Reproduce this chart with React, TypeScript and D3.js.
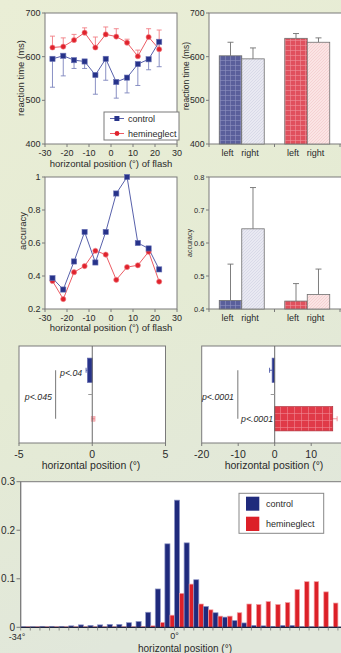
import React from "react";
import * as d3 from "d3";

// ---------- data ----------
const flashPos = [-26.6, -21.7, -16.8, -12, -7.1, -2.4, 2.4, 7.3, 12.2, 17.1, 21.9];
const rtControl = [595, 602, 592, 589, 558, 595, 542, 552, 583, 594, 634];
const rtControlLow = [530, 556, 573, 573, 514, 546, 505, 517, 534, 570, 577];
const rtHemi = [621, 623, 638, 655, 621, 651, 646, 632, 601, 645, 617];
const rtHemiHigh = [647, 643, 651, 666, 645, 668, 664, 640, 615, 664, 661];
const accControl = [0.387, 0.318, 0.488, 0.667, 0.482, 0.667, 0.9, 1.0, 0.6, 0.567, 0.44];
const accHemi = [0.37, 0.26, 0.423, 0.46, 0.553, 0.53, 0.377, 0.454, 0.465, 0.547, 0.366];

const groups = ["control", "hemineglect"];
const sides = ["left", "right"];
const rtBarMeans = [602, 595, 642, 633];
const rtBarErr = [633, 620, 653, 643];
const accBarMeans = [0.426, 0.643, 0.424, 0.444];
const accBarErr = [0.536, 0.768, 0.477, 0.521];

const biasSmall = [-0.32, 0.06];
const biasSmallErr = [0.1, 0.1];
const biasLarge = [-0.7, 15.9];
const biasLargeErr = [0.7, 1.2];

const histStart = -34;
const histBinWidth = 2.125;
const histControl = [0.001, 0.001, 0.002, 0.002, 0.002, 0.003, 0.005, 0.004, 0.005, 0.006, 0.006, 0.0095, 0.012, 0.031, 0.079, 0.172, 0.262, 0.174, 0.098, 0.043, 0.030, 0.021, 0.014, 0.009, 0.004, 0.003, 0.002, 0.004, 0.004, 0.001, 0.001, 0.0006, 0.0006, 0.0005];
const histHemi = [0.001, 0.001, 0.001, 0.001, 0.001, 0.001, 0.001, 0.001, 0.001, 0.001, 0.001, 0.001, 0.0015, 0.003, 0.010, 0.025, 0.070, 0.089, 0.048, 0.036, 0.023, 0.023, 0.030, 0.048, 0.047, 0.053, 0.047, 0.051, 0.078, 0.094, 0.094, 0.073, 0.050, 0.0];

const rtTicks = [400, 500, 600, 700];
const posTicks = [-30, -20, -10, 0, 10, 20, 30];
const accTicks = [0.2, 0.4, 0.6, 0.8, 1];
const accBarTicks = [0.4, 0.5, 0.6, 0.7, 0.8];
const smallBiasTicks = [-5, 0, 5];
const largeBiasTicks = [-20, -10, 0, 10];
const histYTicks = [0, 0.1, 0.2, 0.3];

// ---------- style ----------
const FONT = "'Liberation Sans', Arial, Helvetica, sans-serif";
const TXT = "#2a2a2a";
const FRAME = "#7a7a7a";
const NAVY = "#27338a";
const RED = "#e0232d";

const barFills = ["url(#plaidBlue)", "url(#hatchBlue)", "url(#plaidRed)", "url(#hatchRed)"];

function YAxis({ scale, ticks, x, fmt, size = 9 }: any) {
  return (
    <g>
      {ticks.map((t: number) => (
        <g key={t}>
          <line x1={x - 3} x2={x} y1={scale(t)} y2={scale(t)} stroke={FRAME} />
          <text x={x - 4.5} y={scale(t)} dy="0.35em" textAnchor="end" fontSize={size} fill={TXT} fontFamily={FONT}>
            {fmt ? fmt(t) : t}
          </text>
        </g>
      ))}
    </g>
  );
}

function XAxis({ scale, ticks, y, labelY, size = 9, fmt }: any) {
  return (
    <g>
      {ticks.map((t: number) => (
        <g key={t}>
          <line x1={scale(t)} x2={scale(t)} y1={y} y2={y + 3} stroke={FRAME} />
          <text x={scale(t)} y={labelY} dy="0.35em" textAnchor="middle" fontSize={size} fill={TXT} fontFamily={FONT}>
            {fmt ? fmt(t) : t}
          </text>
        </g>
      ))}
    </g>
  );
}

function Label({ x, y, text, size = 9.5, rotate = false, italic = false, anchor = "middle" }: any) {
  return (
    <text
      x={x}
      y={y}
      dy="0.35em"
      textAnchor={anchor}
      fontSize={size}
      fill={TXT}
      fontFamily={FONT}
      fontStyle={italic ? "italic" : "normal"}
      transform={rotate ? `rotate(-90 ${x} ${y})` : undefined}
    >
      {text}
    </text>
  );
}

function LinePanel({ yScale, xScale, ctrl, hemi, ctrlLow, hemiHigh, top, bottom }: any) {
  const lineC = d3.line<number>().x((_, i) => xScale(flashPos[i])).y((d) => yScale(d));
  return (
    <g>
      <rect x={45} y={top} width={132} height={bottom - top} fill="#fff" stroke={FRAME} />
      {ctrlLow &&
        ctrl.map((v: number, i: number) => (
          <g key={"ce" + i} stroke="#7d85bd" strokeWidth={0.9}>
            <line x1={xScale(flashPos[i])} x2={xScale(flashPos[i])} y1={yScale(v)} y2={yScale(ctrlLow[i])} />
            <line x1={xScale(flashPos[i]) - 2.5} x2={xScale(flashPos[i]) + 2.5} y1={yScale(ctrlLow[i])} y2={yScale(ctrlLow[i])} />
          </g>
        ))}
      {hemiHigh &&
        hemi.map((v: number, i: number) => (
          <g key={"he" + i} stroke="#f07d83" strokeWidth={0.9}>
            <line x1={xScale(flashPos[i])} x2={xScale(flashPos[i])} y1={yScale(v)} y2={yScale(hemiHigh[i])} />
            <line x1={xScale(flashPos[i]) - 2.5} x2={xScale(flashPos[i]) + 2.5} y1={yScale(hemiHigh[i])} y2={yScale(hemiHigh[i])} />
          </g>
        ))}
      <path d={lineC(hemi) || ""} fill="none" stroke="#ec5c64" strokeWidth={1} />
      <path d={lineC(ctrl) || ""} fill="none" stroke="#5861ab" strokeWidth={1} />
      {hemi.map((v: number, i: number) => (
        <circle key={"hc" + i} cx={xScale(flashPos[i])} cy={yScale(v)} r={2.6} fill={RED} stroke="#f28a8f" strokeWidth={0.6} />
      ))}
      {ctrl.map((v: number, i: number) => (
        <rect key={"cr" + i} x={xScale(flashPos[i]) - 2.6} y={yScale(v) - 2.6} width={5.2} height={5.2} fill={NAVY} stroke="#6a72b5" strokeWidth={0.6} />
      ))}
    </g>
  );
}

function BarPanel({ yScale, means, errs, top, bottom }: any) {
  const outer = d3.scaleBand<string>().domain(groups).range([209, 340]).padding(0);
  const inner = d3.scaleBand<string>().domain(sides).range([0, outer.bandwidth()]).paddingInner(0).paddingOuter(0.456);
  const bars: any[] = [];
  groups.forEach((g, gi) =>
    sides.forEach((s, si) => {
      const k = gi * 2 + si;
      bars.push({ x: (outer(g) as number) + (inner(s) as number), w: inner.bandwidth(), v: means[k], e: errs[k], fill: barFills[k], s });
    })
  );
  return (
    <g>
      <rect x={209} y={top} width={150} height={bottom - top} fill="#fff" stroke={FRAME} />
      {bars.map((b, i) => (
        <g key={i}>
          <line x1={b.x + b.w / 2} x2={b.x + b.w / 2} y1={yScale(b.v)} y2={yScale(b.e)} stroke="#707070" strokeWidth={0.9} />
          <line x1={b.x + b.w / 2 - 3} x2={b.x + b.w / 2 + 3} y1={yScale(b.e)} y2={yScale(b.e)} stroke="#707070" strokeWidth={0.9} />
          <rect x={b.x} y={yScale(b.v)} width={b.w} height={bottom - yScale(b.v)} fill={b.fill} stroke="#6f6f6f" strokeWidth={0.8} />
          <text x={b.x + b.w / 2 - 3} y={bottom + 9} dy="0.35em" textAnchor="middle" fontSize={9} fill={TXT} fontFamily={FONT}>
            {b.s}
          </text>
        </g>
      ))}
      {[209, 209 + outer.bandwidth(), 340].map((x, i) => (
        <line key={i} x1={x} x2={x} y1={bottom} y2={bottom + 3} stroke={FRAME} />
      ))}
    </g>
  );
}

function BiasPanel({ xScale, left, values, errs, ticks, sigX, notes }: any) {
  const top = 346;
  const bottom = 443;
  const yb = d3.scaleBand<string>().domain(groups).range([top, bottom]).paddingInner(0.5).paddingOuter(0.25);
  const x0 = xScale(0);
  const fills = ["#27338a", "url(#plaidRedF)"];
  const strokes = ["#5a62a8", "#b0303a"];
  const errCol = ["#4a55a5", "#f08890"];
  return (
    <g>
      <rect x={left} y={top} width={Math.min(xScale.range()[1], 360) - left} height={bottom - top} fill="#fff" stroke={FRAME} />
      {values.map((v: number, i: number) => {
        const g = groups[i];
        const y = yb(g) as number;
        const h = yb.bandwidth();
        const xa = Math.min(xScale(v), x0);
        const w = Math.max(Math.abs(xScale(v) - x0), 1.5);
        const e = v < 0 ? v - errs[i] : v + errs[i];
        const e2 = v < 0 ? v : v - errs[i];
        const cy = y + h / 2;
        return (
          <g key={g}>
            {i === 1 && Math.abs(v) < 1 ? (
              <g>
                <rect x={xScale(v - errs[i]) - 0.5} y={cy - 2.5} width={xScale(v + errs[i]) - xScale(v - errs[i]) + 1} height={5} fill="#f7b3b6" stroke="#f29aa0" strokeWidth={0.5} />
                <line x1={xScale(v - errs[i])} x2={xScale(v + errs[i])} y1={cy} y2={cy} stroke="#e87078" strokeWidth={0.8} />
              </g>
            ) : (
              <g>
                <line x1={xScale(e2)} x2={xScale(e)} y1={cy} y2={cy} stroke={errCol[i]} strokeWidth={0.9} />
                <line x1={xScale(e)} x2={xScale(e)} y1={cy - 2.5} y2={cy + 2.5} stroke={errCol[i]} strokeWidth={0.9} />
                <rect x={xa} y={y} width={w} height={h} fill={fills[i]} stroke={strokes[i]} strokeWidth={0.7} />
              </g>
            )}
          </g>
        );
      })}
      <line x1={x0} x2={x0} y1={top} y2={bottom} stroke="#6a6a6a" strokeWidth={1} />
      <line x1={x0 - 4} x2={x0} y1={top + yb.step()} y2={top + yb.step()} stroke="#999" />
      <line
        x1={xScale(sigX)}
        x2={xScale(sigX)}
        y1={(yb(groups[0]) as number) + yb.bandwidth() / 2}
        y2={(yb(groups[1]) as number) + yb.bandwidth() / 2}
        stroke="#777"
        strokeWidth={1}
      />
      {notes.map((n: any, i: number) => (
        <Label key={i} x={n.x} y={n.y} text={n.t} size={8.8} italic anchor={n.a} />
      ))}
      <XAxis scale={xScale} ticks={ticks} y={bottom} labelY={bottom + 11} size={10.5} />
    </g>
  );
}

export default function App() {
  const xPos = d3.scaleLinear().domain([-30, 30]).range([45, 177]);
  const yRT = d3.scaleLinear().domain([400, 700]).range([144, 13]);
  const yAcc = d3.scaleLinear().domain([0.2, 1]).range([309, 177]);
  const yAccBar = d3.scaleLinear().domain([0.4, 0.8]).range([309, 177]);
  const xSmall = d3.scaleLinear().domain([-5, 5]).range([19, 165.5]);
  const xLarge = d3.scaleLinear().domain([-20, 20]).range([201.7, 347.7]);

  const xH = d3.scaleLinear().domain([-34, 0]).range([20.7, 174.5]);
  const yH = d3.scaleLinear().domain([0, 0.3]).range([627.3, 481.7]);
  const binPx = xH(histStart + histBinWidth) - xH(histStart);
  const blueW = binPx * 0.53;

  const fmtAcc = (t: number) => (t === 1 ? "1" : d3.format(".1f")(t));

  return (
    <svg width={341} height={653} style={{ position: "absolute", left: 0, top: 0 }} xmlns="http://www.w3.org/2000/svg">
      <defs>
        <linearGradient id="bg" x1="0" y1="0" x2="0.3" y2="1">
          <stop offset="0" stopColor="#eaeed6" />
          <stop offset="0.55" stopColor="#e5ebd4" />
          <stop offset="1" stopColor="#e1e7db" />
        </linearGradient>
        <pattern id="plaidBlue" width="5" height="5" patternUnits="userSpaceOnUse">
          <rect width="5" height="5" fill="#5a5f9b" />
          <path d="M0 0.5H5M0.5 0V5" stroke="#8e92c0" strokeWidth="0.6" />
        </pattern>
        <pattern id="hatchBlue" width="3" height="3" patternUnits="userSpaceOnUse">
          <rect width="3" height="3" fill="#e9e9f2" />
          <path d="M0 3L3 0" stroke="#cfd0e0" strokeWidth="0.6" />
        </pattern>
        <pattern id="plaidRed" width="5" height="5" patternUnits="userSpaceOnUse">
          <rect width="5" height="5" fill="#e0505d" />
          <path d="M0 0.5H5M0.5 0V5" stroke="#f0929a" strokeWidth="0.6" />
        </pattern>
        <pattern id="plaidRedF" width="7" height="7" patternUnits="userSpaceOnUse">
          <rect width="7" height="7" fill="#e03a48" />
          <path d="M0 0.5H7M0.5 0V7" stroke="#f08a94" strokeWidth="0.6" />
        </pattern>
        <pattern id="hatchRed" width="3" height="3" patternUnits="userSpaceOnUse">
          <rect width="3" height="3" fill="#fbe4e4" />
          <path d="M0 3L3 0" stroke="#f2c6c8" strokeWidth="0.6" />
        </pattern>
      </defs>
      <rect x={0} y={0} width={341} height={653} fill="url(#bg)" />

      {/* Panel A */}
      <LinePanel yScale={yRT} xScale={xPos} ctrl={rtControl} hemi={rtHemi} ctrlLow={rtControlLow} hemiHigh={rtHemiHigh} top={13} bottom={144} />
      <YAxis scale={yRT} ticks={rtTicks} x={45} />
      <XAxis scale={xPos} ticks={posTicks} y={144} labelY={153} />
      <Label x={111} y={164} text="horizontal position (°) of flash" />
      <Label x={21} y={78} text="reaction time (ms)" rotate />
      <g>
        <rect x={104} y={112} width={75} height={28} fill="#fff" stroke={FRAME} />
        <line x1={110} x2={124} y1={118.5} y2={118.5} stroke="#5861ab" />
        <rect x={114.4} y={116} width={5} height={5} fill={NAVY} />
        <text x={128} y={118.5} dy="0.35em" fontSize={9} fill={TXT} fontFamily={FONT}>control</text>
        <line x1={110} x2={124} y1={133.5} y2={133.5} stroke="#ec5c64" />
        <circle cx={117} cy={133.5} r={2.4} fill={RED} />
        <text x={128} y={133.5} dy="0.35em" fontSize={9} fill={TXT} fontFamily={FONT}>hemineglect</text>
      </g>

      {/* Panel B */}
      <BarPanel yScale={yRT} means={rtBarMeans} errs={rtBarErr} top={13} bottom={144} />
      <YAxis scale={yRT} ticks={rtTicks} x={209} size={8.7} />
      <Label x={186} y={76} text="reaction time (ms)" rotate size={8.5} />

      {/* Panel C */}
      <LinePanel yScale={yAcc} xScale={xPos} ctrl={accControl} hemi={accHemi} top={177} bottom={309} />
      <YAxis scale={yAcc} ticks={accTicks} x={45} fmt={fmtAcc} />
      <XAxis scale={xPos} ticks={posTicks} y={309} labelY={317.5} />
      <Label x={111} y={327.5} text="horizontal position (°) of flash" />
      <Label x={23} y={231} text="accuracy" rotate />

      {/* Panel D */}
      <BarPanel yScale={yAccBar} means={accBarMeans} errs={accBarErr} top={177} bottom={309} />
      <YAxis scale={yAccBar} ticks={accBarTicks} x={209} fmt={(t: number) => d3.format(".1f")(t)} size={7.5} />
      <Label x={190} y={243} text="accuracy" rotate size={7} />

      {/* Panel E */}
      <BiasPanel
        xScale={xSmall}
        left={19}
        values={biasSmall}
        errs={biasSmallErr}
        ticks={smallBiasTicks}
        sigX={-2.5}
        notes={[
          { x: 60, y: 373, t: "p<.04", a: "start" },
          { x: 52, y: 397, t: "p<.045", a: "end" },
        ]}
      />
      <Label x={91} y={465} text="horizontal position (°)" size={10.5} />

      {/* Panel F */}
      <BiasPanel
        xScale={xLarge}
        left={201.7}
        values={biasLarge}
        errs={biasLargeErr}
        ticks={largeBiasTicks}
        sigX={-10.1}
        notes={[
          { x: 234, y: 397, t: "p<.0001", a: "end" },
          { x: 241, y: 419, t: "p<.0001", a: "start" },
        ]}
      />
      <Label x={274} y={465} text="horizontal position (°)" size={10.5} />

      {/* Panel G histogram */}
      <rect x={20.7} y={481.7} width={340} height={627.3 - 481.7} fill="#fff" stroke={FRAME} />
      {histControl.map((v, i) => {
        const x0 = xH(histStart + i * histBinWidth);
        return (
          <g key={"h" + i}>
            {v > 0 && (
              <rect x={x0} y={yH(v)} width={blueW} height={yH(0) - yH(v)} fill="#1f2a7c" stroke="#8f96c6" strokeWidth={0.7} />
            )}
            {histHemi[i] > 0 && (
              <rect x={x0 + blueW} y={yH(histHemi[i])} width={binPx - blueW} height={yH(0) - yH(histHemi[i])} fill="#dc2028" stroke="#f3a0a4" strokeWidth={0.7} />
            )}
          </g>
        );
      })}
      <line x1={20.7} x2={341} y1={627.3} y2={627.3} stroke="#1d2340" strokeWidth={1.2} />
      <line x1={20.7} x2={20.7} y1={481.7} y2={627.3} stroke={FRAME} />
      {histControl.map((_, i) => (
        <line key={"t" + i} x1={xH(histStart + i * histBinWidth)} x2={xH(histStart + i * histBinWidth)} y1={627.3} y2={630.5} stroke="#777" strokeWidth={0.8} />
      ))}
      {histYTicks.map((t) => (
        <g key={"y" + t}>
          <line x1={16.5} x2={20.7} y1={yH(t)} y2={yH(t)} stroke={FRAME} />
          <text x={15} y={yH(t)} dy="0.35em" textAnchor="end" fontSize={10} fill={TXT} fontFamily={FONT}>{t === 0 ? "0" : d3.format(".1f")(t)}</text>
        </g>
      ))}
      <Label x={17} y={636.5} text="-34°" size={9} />
      <Label x={174.5} y={635.5} text="0°" size={9} />
      <Label x={185} y={648} text="horizontal position (°)" size={10} />
      <g>
        <rect x={239} y={493.3} width={84.7} height={40} fill="#fff" stroke="#888" />
        <rect x={246} y={496.7} width={13.3} height={14} fill="#1f2a7c" />
        <rect x={246} y={516.7} width={13.3} height={14.3} fill="#dc2028" />
        <text x={266} y={503.7} dy="0.35em" fontSize={9} fill={TXT} fontFamily={FONT}>control</text>
        <text x={266} y={524} dy="0.35em" fontSize={9} fill={TXT} fontFamily={FONT}>hemineglect</text>
      </g>
    </svg>
  );
}
